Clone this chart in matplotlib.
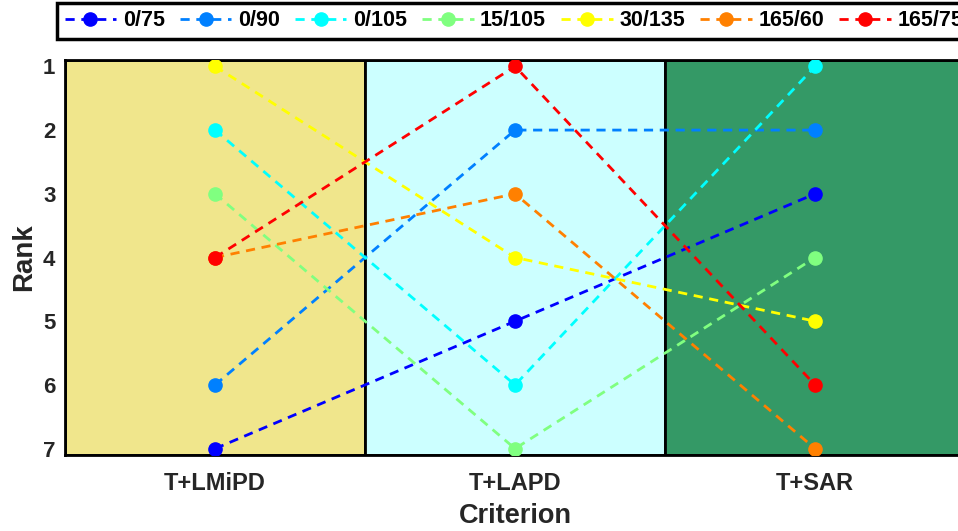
import matplotlib.pyplot as plt

plt.rcParams['font.family'] = ['Liberation Sans', 'DejaVu Sans']
plt.rcParams['font.weight'] = 'bold'
plt.rcParams['axes.labelweight'] = 'bold'

# Criteria on the x axis, series ranks per criterion
criteria = ['T+LMiPD', 'T+LAPD', 'T+SAR']
labels = ['0/75', '0/90', '0/105', '15/105', '30/135', '165/60', '165/75']
rank_0_75 = [7, 5, 3]
rank_0_90 = [6, 2, 2]
rank_0_105 = [2, 6, 1]
rank_15_105 = [3, 7, 4]
rank_30_135 = [1, 4, 5]
rank_165_60 = [4, 3, 7]
rank_165_75 = [4, 1, 6]
ranks = [rank_0_75, rank_0_90, rank_0_105, rank_15_105,
         rank_30_135, rank_165_60, rank_165_75]
colors = ['#0000FF', '#0080FF', '#00FFFF', '#80FF80',
          '#FFFF00', '#FF8000', '#FF0000']
panel_colors = ['#F0E68C', '#CCFFFF', '#349966']

fig = plt.figure(figsize=(9.58, 5.31), dpi=100)
# the axes run past the right edge of the figure on purpose
ax = fig.add_axes([0.0679, 0.1431, 0.9395, 0.7439])

x = list(range(1, len(criteria) + 1))
for i, c in enumerate(panel_colors):
    ax.axvspan(x[i] - 0.5, x[i] + 0.5, facecolor=c, edgecolor='black',
               linewidth=2, zorder=0)

handles = []
for r, lab, col in zip(ranks, labels, colors):
    h, = ax.plot(x, r, linestyle='--', dashes=(3.3, 2.4), color=col,
                 linewidth=2, marker='o', markersize=9.5, label=lab, zorder=3)
    handles.append(h)

ax.set_xlim(0.5, 3.5)
ax.set_ylim(7.1, 0.9)
ax.set_xticks(x)
ax.set_xticklabels(criteria)
ax.set_yticks(range(1, 8))
ax.tick_params(length=0, colors='#262626')
ax.tick_params(axis='x', labelsize=17, pad=12)
ax.tick_params(axis='y', labelsize=16, pad=7)
for s in ax.spines.values():
    s.set_linewidth(2)
    s.set_color('black')
ax.set_xlabel('Criterion', fontsize=19.5, color='#262626', labelpad=6)
ax.set_ylabel('Rank', fontsize=20, color='#262626', labelpad=4)

# legend is wider than the figure, so its right end gets clipped
leg = fig.legend(handles=handles, loc='upper left', ncol=7,
                 bbox_to_anchor=(0.0595, 0.995), borderaxespad=0,
                 fontsize=15.5, handlelength=2.4, handletextpad=0.3,
                 columnspacing=0.7, borderpad=0.35, fancybox=False,
                 framealpha=1, edgecolor='black')
leg.get_frame().set_linewidth(2.5)

fig.savefig('out.png', dpi=100)
